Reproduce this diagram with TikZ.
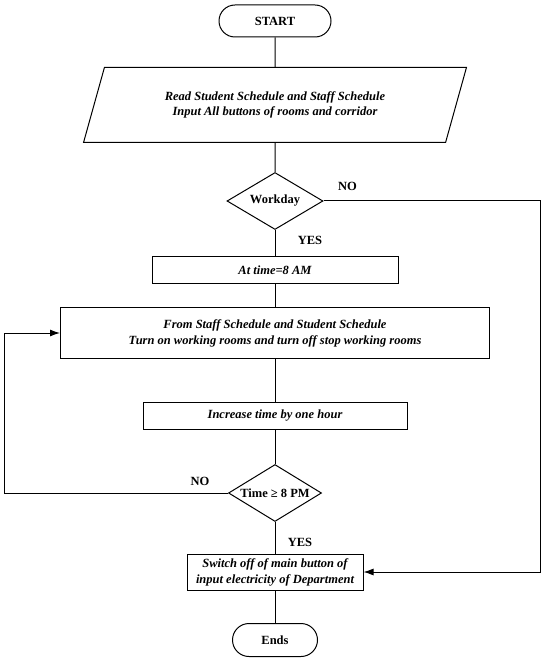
\documentclass[tikz,border=0pt]{standalone}
\usepackage{fontspec}
\setmainfont{Liberation Serif}
\usetikzlibrary{shapes.geometric,shapes.misc,arrows.meta}

\begin{document}
\begin{tikzpicture}[x=1pt, y=-1pt, line width=1pt,
    txt/.style={font=\fontsize{12.5}{15}\selectfont\bfseries},
    term/.style={txt, draw, rounded rectangle, inner sep=0pt},
    io/.style={txt, draw, trapezium, trapezium left angle=63, trapezium right angle=117,
      trapezium stretches=true, align=center, inner sep=0pt, font=\fontsize{12.5}{15}\selectfont\bfseries\itshape},
    stepbox/.style={txt, draw, rectangle, align=center, inner sep=0pt, font=\fontsize{12.5}{16}\selectfont\bfseries\itshape},
    decide/.style={txt, draw, diamond, inner sep=0pt},
    lbl/.style={txt}]
    \useasboundingbox (0,0) rectangle (550,660);
    \node (start) [term, minimum width=112pt, minimum height=32pt] at (275,21) {START};
    \node (rd) [io, minimum width=383pt, minimum height=75pt, node distance=84pt, below of=start]
      {Read Student Schedule and Staff Schedule\\Input All buttons of rooms and corridor};
    \node (wd) [decide, minimum width=96pt, minimum height=57pt, node distance=96pt, below of=rd] {\makebox[0pt]{Workday}};
    \node (at) [stepbox, minimum width=246pt, minimum height=27pt, node distance=69pt, below of=wd] {At time=8 AM};
    \node (proc) [stepbox, minimum width=429pt, minimum height=51pt, node distance=63pt, below of=at]
      {From Staff Schedule and Student Schedule\\Turn on working rooms and turn off stop working rooms};
    \node (inc) [stepbox, minimum width=264pt, minimum height=27pt, node distance=83pt, below of=proc] {Increase time by one hour};
    \node (tm) [decide, minimum width=93pt, minimum height=57pt, node distance=77pt, below of=inc] {\makebox[0pt]{Time ≥ 8 PM}};
    \node (sw) [stepbox, minimum width=176pt, minimum height=36pt, node distance=79pt, below of=tm]
      {Switch off of main button of\\input electricity of Department};
    \node (ends) [term, minimum width=85pt, minimum height=33pt, node distance=68pt, below of=sw] {Ends};
    \coordinate (lft) at (4,0);
    \coordinate (rgt) at (540,0);
    \node (no1) [lbl] at ([xshift=24pt, yshift=15pt]wd.east) {NO};
    \node (yes1) [lbl] at ([xshift=35pt, yshift=-10pt]wd.south) {YES};
    \node (no2) [lbl] at ([xshift=-28pt, yshift=12pt]tm.west) {NO};
    \node (yes2) [lbl] at ([xshift=25pt, yshift=-20pt]tm.south) {YES};
    \draw (start) -- (rd);
    \draw (rd) -- (wd);
    \draw (wd) -- (at);
    \draw (at) -- (proc);
    \draw (proc) -- (inc);
    \draw (inc) -- (tm);
    \draw (tm) -- (sw);
    \draw (sw) -- (ends);
    \draw[-{Latex[length=10pt, width=7pt]}] (tm.west) -- (tm.west -| lft) |- (proc.west);
    \draw[-{Latex[length=10pt, width=7pt]}] (wd.east) -- (wd.east -| rgt) |- (sw.east);
  \end{tikzpicture}
\end{document}
